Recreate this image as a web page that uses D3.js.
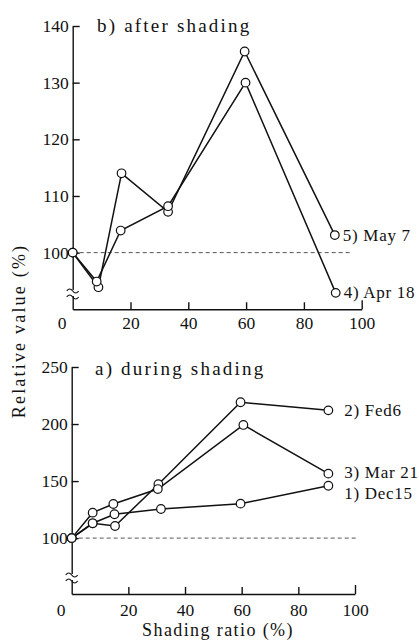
<!DOCTYPE html>
<html>
<head>
<meta charset="utf-8">
<script src="https://cdn.jsdelivr.net/npm/d3@7"></script>
<style>
  body { margin: 0; background: #fff; }
  svg { display: block; }
</style>
</head>
<body>
<div id="chart"></div>
<script>
// ---------- data ----------
// b) after shading  [shading ratio %, relative value %]
const afterMay7  = [[0,100],[8.9,93.9],[16.9,114.0],[33,107.2],[59.5,135.5],[90.7,103.1]];
const afterApr18 = [[0,100],[8.3,94.9],[16.6,103.9],[33,108.2],[59.8,130.0],[91,92.9]];
// a) during shading
const duringDec15 = [[0,100],[7.4,113.0],[15.1,120.9],[31.5,125.5],[59.6,130.2],[90.6,145.9]];
const duringFed6  = [[0,100],[7.4,113.0],[15.3,110.6],[30.6,147.2],[59.6,219.1],[90.6,212.0]];
const duringMar21 = [[0,100],[7.4,122.3],[14.7,129.9],[30.4,143.0],[60.6,199.2],[90.6,156.5]];

const afterLabels  = ["5) May 7", "4) Apr 18"];
const duringLabels = ["1) Dec15", "2) Fed6", "3) Mar 21"];
const xTicks = [0, 20, 40, 60, 80, 100];
const afterYTicks  = [100, 110, 120, 130, 140];
const duringYTicks = [100, 150, 200, 250];
const titleAfter  = "b) after  shading";
const titleDuring = "a) during  shading";
const yTitle = "Relative value (%)";
const xTitle = "Shading ratio (%)";

// ---------- drawing ----------
const FONT = "'Liberation Serif', 'Times New Roman', Times, serif";
const W = 419, H = 642;
const svg = d3.select("#chart").append("svg").attr("width", W).attr("height", H)
  .style("font-family", FONT);

function panel(opts) {
  const { x, y, series, labels, labelDy, labelDx, yTicks, title, titlePos, dashEnd, breakY, tickPad } = opts;
  const g = svg.append("g");

  // dashed reference line at 100
  g.append("line")
    .attr("x1", x(0)).attr("x2", x(dashEnd))
    .attr("y1", y(100)).attr("y2", y(100))
    .attr("stroke", "#555").attr("stroke-width", 1)
    .attr("stroke-dasharray", "4,3");

  // y axis
  const ya = g.append("g").attr("transform", `translate(${x(0)},0)`)
    .call(d3.axisLeft(y).tickValues(yTicks).tickSizeInner(-7).tickSizeOuter(0).tickPadding(4));
  ya.attr("font-family", null);
  ya.selectAll("text").style("font-size", "17.5px").style("font-family", FONT).attr("fill", "#111");
  ya.selectAll("line, path").attr("stroke", "#111").attr("stroke-width", 1.4);

  // x axis
  const xa = g.append("g").attr("transform", `translate(0,${y.range()[0]})`)
    .call(d3.axisBottom(x).tickValues(xTicks).tickSizeInner(-7).tickSizeOuter(0).tickPadding(tickPad));
  xa.attr("font-family", null);
  xa.selectAll("text").style("font-size", "17.5px").style("font-family", FONT).attr("fill", "#111")
    .attr("dx", d => d === 0 ? -11 : 0);
  xa.selectAll("line, path").attr("stroke", "#111").attr("stroke-width", 1.4);
  xa.selectAll(".tick").filter(d => d === 0).select("line").remove();
  xa.selectAll(".tick").filter(d => d === 100).select("line").attr("y2", -9);

  // axis break mark
  const by = breakY, bx = x(0);
  g.append("rect").attr("x", bx - 3).attr("y", by - 3).attr("width", 6).attr("height", 6).attr("fill", "#fff");
  [-3, 3].forEach(o => {
    g.append("path")
      .attr("d", `M${bx-6},${by+o+1} q3,-4 6,0 t6,0`)
      .attr("fill", "none").attr("stroke", "#111").attr("stroke-width", 1.1);
  });

  // lines
  const line = d3.line().x(d => x(d[0])).y(d => y(d[1]));
  series.forEach(s => {
    g.append("path").datum(s).attr("d", line)
      .attr("fill", "none").attr("stroke", "#111").attr("stroke-width", 1.5);
  });
  series.forEach(s => {
    g.selectAll(null).data(s).enter().append("circle")
      .attr("cx", d => x(d[0])).attr("cy", d => y(d[1])).attr("r", 4.3)
      .attr("fill", "#fff").attr("stroke", "#111").attr("stroke-width", 1.2);
  });

  // series labels
  series.forEach((s, i) => {
    const last = s[s.length - 1];
    g.append("text")
      .attr("x", x(last[0]) + labelDx)
      .attr("y", y(last[1]) + labelDy[i])
      .attr("dominant-baseline", "central")
      .attr("fill", "#111")
      .style("font-family", FONT)
      .style("font-size", "17px").style("letter-spacing", "0.7px")
      .text(labels[i]);
  });

  // panel title
  g.append("text").attr("x", titlePos[0]).attr("y", titlePos[1])
    .attr("fill", "#111")
    .style("font-family", FONT)
    .style("font-size", "19px").style("letter-spacing", "2.2px")
    .text(title);
}

const xTop = d3.scaleLinear().domain([0, 100]).range([72.7, 361.7]);
const yTop = d3.scaleLinear().domain([90, 140]).range([309.3, 26]);
panel({
  x: xTop, y: yTop, series: [afterMay7, afterApr18], labels: afterLabels,
  labelDx: 8, labelDy: [0, 0], yTicks: afterYTicks, title: titleAfter,
  titlePos: [97, 31.5], dashEnd: 96, breakY: 293, tickPad: 7
});

const xBot = d3.scaleLinear().domain([0, 100]).range([71.7, 355]);
const yBot = d3.scaleLinear().domain([51, 250]).range([594, 367]);
panel({
  x: xBot, y: yBot, series: [duringDec15, duringFed6, duringMar21], labels: duringLabels,
  labelDx: 16, labelDy: [7.5, 0, -1.5], yTicks: duringYTicks, title: titleDuring,
  titlePos: [95, 375], dashEnd: 100.7, breakY: 577, tickPad: 10
});

// axis titles
svg.append("text")
  .attr("transform", "translate(19,331) rotate(-90)")
  .attr("text-anchor", "middle").attr("dominant-baseline", "central")
  .attr("fill", "#111")
  .style("font-family", FONT)
  .style("font-size", "18px").style("letter-spacing", "2.2px")
  .text(yTitle);

svg.append("text")
  .attr("x", 218).attr("y", 636)
  .attr("text-anchor", "middle")
  .attr("fill", "#111")
  .style("font-family", FONT)
  .style("font-size", "18px").style("letter-spacing", "1.4px")
  .text(xTitle);
</script>
</body>
</html>
